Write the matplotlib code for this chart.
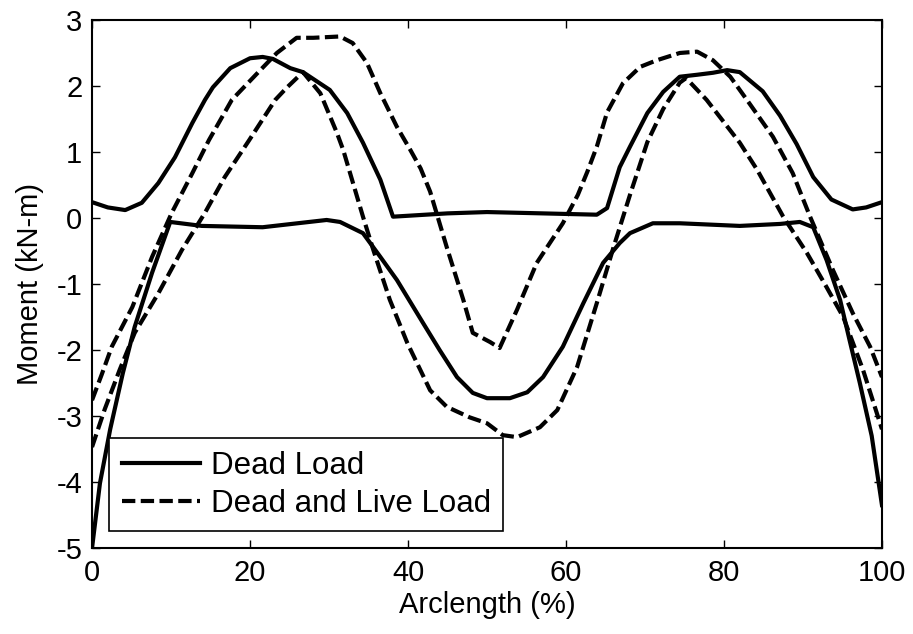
import numpy as np
import matplotlib
matplotlib.use("Agg")
from matplotlib import pyplot as plt

# dead load envelope (upper / lower)
dead_max_x = [0, 2, 4.2, 6.3, 8.4, 10.5, 12.7, 14.3, 15.3, 17.5, 20, 21.6, 22.9, 25.1, 26.7,
              30.1, 32.3, 34.3, 36.5, 38.1, 45, 50, 57, 63.9, 65.2, 66.8, 68.1, 70.3, 72.3,
              74.4, 76.6, 78.6, 80.4, 82, 84.9, 87.1, 89.2, 91.3, 93.6, 96.3, 98, 100]
dead_max_y = [0.24, 0.16, 0.12, 0.23, 0.53, 0.92, 1.44, 1.79, 1.98, 2.27, 2.42, 2.44, 2.41, 2.27, 2.21,
              1.94, 1.59, 1.14, 0.58, 0.02, 0.07, 0.09, 0.07, 0.05, 0.15, 0.77, 1.08, 1.59, 1.91,
              2.14, 2.17, 2.2, 2.24, 2.21, 1.92, 1.55, 1.12, 0.62, 0.28, 0.13, 0.16, 0.24]

dead_min_x = [0, 1, 2.3, 3.9, 5.4, 7.6, 9.9, 13.9, 21.6, 29.7, 31.4, 34.3, 36.5, 38.6, 41.9,
              44, 46.2, 48.2, 50, 52.9, 55.1, 57.1, 59.6, 62.2, 64.7, 66.8, 68.1, 71, 74.4,
              82, 87.1, 89.6, 91.3, 93, 94.7, 95.9, 97.2, 98.7, 100]
dead_min_y = [-5, -4.02, -3.2, -2.35, -1.65, -0.83, -0.06, -0.12, -0.14, -0.03, -0.06, -0.23,
              -0.59, -0.94, -1.59, -2.0, -2.41, -2.65, -2.73, -2.73, -2.64, -2.41, -1.95,
              -1.29, -0.68, -0.38, -0.23, -0.08, -0.08, -0.12, -0.09, -0.06, -0.14, -0.64,
              -1.24, -1.85, -2.5, -3.3, -4.35]

# dead + live load envelope
live_a_x = [0, 1.2, 2.5, 5.1, 7.6, 10.1, 12.7, 14.8, 17.7, 21.3, 23.4, 25.9, 28, 31.4, 33,
            34.8, 36.5, 38.6, 40.3, 41.6, 42.8, 44.9, 47, 48.2, 50.4, 51.6, 53.8, 56.3, 59.6,
            61.5, 62.7, 63.9, 65.2, 67.2, 69.4, 71.5, 74.4, 76.6, 78.6, 80.8, 82.9, 86.2,
            88.7, 90.9, 93.8, 96.3, 98.5, 100]
live_a_y = [-2.76, -2.38, -1.95, -1.35, -0.59, 0.08, 0.68, 1.18, 1.79, 2.24, 2.5, 2.73, 2.73,
            2.75, 2.65, 2.35, 1.89, 1.38, 1.03, 0.75, 0.4, -0.44, -1.24, -1.74, -1.88, -1.97,
            -1.39, -0.68, -0.08, 0.35, 0.7, 1.08, 1.6, 2.04, 2.29, 2.39, 2.5, 2.52, 2.39, 2.14,
            1.79, 1.23, 0.68, 0.02, -0.79, -1.44, -1.95, -2.41]

live_b_x = [0, 1.6, 3.5, 5.4, 8.4, 11.4, 14.3, 16.8, 19.9, 23.2, 24.7, 26.7, 28.9, 31, 31.8,
            34.3, 35.6, 37.7, 39.9, 42.8, 44.9, 47.8, 50, 52, 53.8, 56.7, 58.9, 61.4, 63.9,
            66, 68.1, 70.3, 72.3, 74.4, 75.2, 77.8, 80, 82, 84.2, 87.5, 90.5, 93, 95.1, 97.6, 100]
live_b_y = [-3.47, -2.9, -2.3, -1.74, -1.14, -0.48, 0.08, 0.62, 1.18, 1.79, 1.98, 2.21, 1.89,
            1.29, 1.03, 0.02, -0.48, -1.24, -1.89, -2.61, -2.86, -3.02, -3.11, -3.29, -3.32,
            -3.17, -2.91, -2.26, -1.29, -0.45, 0.35, 1.15, 1.65, 2.05, 2.12, 1.79, 1.45, 1.14,
            0.73, 0.02, -0.53, -1.05, -1.5, -2.3, -3.2]

xticks = [0, 20, 40, 60, 80, 100]
yticks = [-5, -4, -3, -2, -1, 0, 1, 2, 3]

plt.rcParams['font.family'] = ['Liberation Sans', 'DejaVu Sans']
plt.rcParams['font.size'] = 21
plt.rcParams['axes.unicode_minus'] = False

fig = plt.figure(figsize=(9.13, 6.34), dpi=100)
ax = fig.add_axes([0.1008, 0.1356, 0.8652, 0.8329])

dash = (0, (3.2, 1.3))
ax.plot(dead_max_x, dead_max_y, 'k-', lw=3, label='Dead Load')
ax.plot(dead_min_x, dead_min_y, 'k-', lw=3)
ax.plot(live_a_x, live_a_y, color='k', linestyle=dash, lw=3, label='Dead and Live Load')
ax.plot(live_b_x, live_b_y, color='k', linestyle=dash, lw=3)

ax.set_xlim(0, 100)
ax.set_ylim(-5, 3)
ax.set_xticks(xticks)
ax.set_yticks(yticks)
ax.tick_params(direction='in', length=6, width=1, top=True, right=True)
ax.tick_params(axis='x', pad=8)
ax.tick_params(axis='y', pad=7)
for s in ax.spines.values():
    s.set_linewidth(1.5)

ax.set_xlabel('Arclength (%)', labelpad=3)
ax.set_ylabel('Moment (kN-m)', labelpad=9)

leg = ax.legend(loc='lower left', bbox_to_anchor=(0.0215, 0.032), borderaxespad=0,
                fancybox=False, framealpha=1, edgecolor='k', handlelength=2.5,
                handletextpad=0.35, borderpad=0.4, labelspacing=0.25, fontsize=22.5)
leg.get_frame().set_linewidth(1.2)

fig.savefig('out.png', dpi=100)
